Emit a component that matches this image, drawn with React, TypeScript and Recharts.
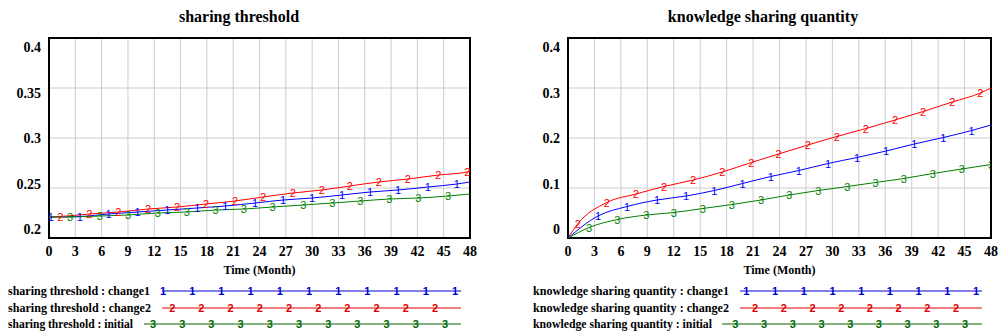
// Two Vensim-style run comparison charts
import React from 'react';
import { LineChart, Line, XAxis, YAxis, CartesianGrid, ReferenceArea } from 'recharts';

type Pt = { t: number; v: number };

const months = [0, 3, 6, 9, 12, 15, 18, 21, 24, 27, 30, 33, 36, 39, 42, 45, 48];
const thresholdTicks = [0.2, 0.25, 0.3, 0.35, 0.4];
const quantityTicks = [0, 0.1, 0.2, 0.3, 0.4];

// sharing threshold
const thresholdChange1: Pt[] = [
    { t: 0, v: 0.221 }, { t: 0.2, v: 0.221 }, { t: 3.5, v: 0.2215 }, { t: 6.8, v: 0.224 },
    { t: 10.1, v: 0.226 }, { t: 13.5, v: 0.228 }, { t: 16.9, v: 0.23 }, { t: 20.1, v: 0.232 },
    { t: 23.5, v: 0.235 }, { t: 26.7, v: 0.238 }, { t: 30, v: 0.24 }, { t: 33.4, v: 0.243 },
    { t: 36.6, v: 0.246 }, { t: 39.8, v: 0.248 }, { t: 43.2, v: 0.251 }, { t: 46.5, v: 0.254 },
    { t: 48, v: 0.256 },
];
const thresholdChange2: Pt[] = [
    { t: 0, v: 0.221 }, { t: 1.3, v: 0.2215 }, { t: 4.6, v: 0.224 }, { t: 7.9, v: 0.226 },
    { t: 11.3, v: 0.229 }, { t: 14.6, v: 0.231 }, { t: 17.9, v: 0.234 }, { t: 21.2, v: 0.237 },
    { t: 24.4, v: 0.241 }, { t: 27.8, v: 0.245 }, { t: 31.1, v: 0.248 }, { t: 34.3, v: 0.252 },
    { t: 37.6, v: 0.256 }, { t: 40.9, v: 0.259 }, { t: 44.4, v: 0.263 }, { t: 47.7, v: 0.266 },
    { t: 48, v: 0.267 },
];
const thresholdInitial: Pt[] = [
    { t: 0, v: 0.221 }, { t: 2.4, v: 0.221 }, { t: 5.8, v: 0.222 }, { t: 9, v: 0.223 },
    { t: 12.4, v: 0.225 }, { t: 15.7, v: 0.226 }, { t: 19, v: 0.228 }, { t: 22.2, v: 0.229 },
    { t: 25.5, v: 0.231 }, { t: 29, v: 0.233 }, { t: 32.3, v: 0.235 }, { t: 35.5, v: 0.237 },
    { t: 38.8, v: 0.239 }, { t: 42.1, v: 0.24 }, { t: 45.5, v: 0.242 }, { t: 48, v: 0.244 },
];

// knowledge sharing quantity
const quantityChange1: Pt[] = [
    { t: 0, v: 0 }, { t: 3.4, v: 0.044 }, { t: 6.7, v: 0.063 }, { t: 10.1, v: 0.076 },
    { t: 13.4, v: 0.084 }, { t: 16.6, v: 0.095 }, { t: 19.8, v: 0.109 }, { t: 23, v: 0.123 },
    { t: 26.2, v: 0.135 }, { t: 29.5, v: 0.149 }, { t: 32.8, v: 0.161 }, { t: 36.1, v: 0.174 },
    { t: 39.3, v: 0.188 }, { t: 42.6, v: 0.201 }, { t: 45.8, v: 0.215 }, { t: 48, v: 0.226 },
];
const quantityChange2: Pt[] = [
    { t: 0, v: 0 }, { t: 1.1, v: 0.028 }, { t: 4.4, v: 0.071 }, { t: 7.7, v: 0.088 },
    { t: 10.9, v: 0.103 }, { t: 14.2, v: 0.116 }, { t: 17.5, v: 0.132 }, { t: 20.8, v: 0.151 },
    { t: 23.9, v: 0.168 }, { t: 27.2, v: 0.186 }, { t: 30.5, v: 0.203 }, { t: 33.8, v: 0.219 },
    { t: 37.1, v: 0.236 }, { t: 40.3, v: 0.253 }, { t: 43.6, v: 0.272 }, { t: 46.8, v: 0.29 },
    { t: 48, v: 0.3 },
];
const quantityInitial: Pt[] = [
    { t: 0, v: 0 }, { t: 2.4, v: 0.021 }, { t: 5.6, v: 0.037 }, { t: 8.9, v: 0.046 },
    { t: 12, v: 0.051 }, { t: 15.3, v: 0.059 }, { t: 18.6, v: 0.067 }, { t: 21.9, v: 0.076 },
    { t: 25.1, v: 0.086 }, { t: 28.4, v: 0.095 }, { t: 31.7, v: 0.103 }, { t: 34.9, v: 0.111 },
    { t: 38.1, v: 0.119 }, { t: 41.4, v: 0.129 }, { t: 44.7, v: 0.138 }, { t: 48, v: 0.147 },
];

const BLUE = '#0000ff';
const RED = '#ff0000';
const GREEN = '#008000';
const SERIF = '"Liberation Serif", "Times New Roman", serif';
const SANS = '"Liberation Sans", Arial, sans-serif';

interface Series {
    name: string;
    data: Pt[];
    color: string;
    digit: string;
    markFirst?: boolean;
    markLast?: boolean;
}

const digitDot = (s: Series) => (props: any) => {
    const { cx, cy, index } = props;
    const n = s.data.length;
    const show = (index > 0 || s.markFirst) && (index < n - 1 || s.markLast);
    if (!show || cx == null || cy == null) return <g key={`${s.digit}-${index}`} />;
    return (
        <text key={`${s.digit}-${index}`} x={cx} y={cy} dy={4} textAnchor="middle"
            fill={s.color} fontSize={11} fontFamily={SANS}>
            {s.digit}
        </text>
    );
};

const YTick = (props: any) => {
    const { x, y, payload } = props;
    const shift = (138 - y) * 0.09;
    return (
        <text x={x} y={y + shift} dy={5} textAnchor="end" fill="#000"
            fontSize={14} fontWeight="bold" fontFamily={SERIF}>
            {String(payload.value)}
        </text>
    );
};

interface PanelProps {
    width: number;
    yWidth: number;
    rightMargin: number;
    domain: [number, number];
    ticks: number[];
    series: Series[];
}

function Panel({ width, yWidth, rightMargin, domain, ticks, series }: PanelProps) {
    return (
        <LineChart width={width} height={334} margin={{ top: 38, right: rightMargin, bottom: 60, left: 0 }}>
            <CartesianGrid stroke="#cccccc" strokeWidth={1} />
            <XAxis dataKey="t" type="number" domain={[0, 48]} ticks={months} interval={0}
                height={36} tickLine={false} axisLine={false} allowDataOverflow
                tick={{ fontSize: 14, fontWeight: 'bold', fill: '#000', fontFamily: SERIF }}
                label={{ value: 'Time (Month)', position: 'insideBottom', offset: 0, fontSize: 12, fontWeight: 'bold', fill: '#000', fontFamily: SERIF }} />
            <YAxis type="number" domain={domain} ticks={ticks} width={yWidth} interval={0}
                tickLine={false} axisLine={false} allowDataOverflow tick={<YTick />} />
            {series.map((s) => (
                <Line key={s.name} data={s.data} dataKey="v" name={s.name} type="monotone"
                    stroke={s.color} strokeWidth={1} dot={digitDot(s)} activeDot={false}
                    isAnimationActive={false} />
            ))}
            <ReferenceArea x1={0} x2={48} y1={domain[0]} y2={domain[1]} fill="none"
                fillOpacity={0} stroke="#000" strokeWidth={2} />
        </LineChart>
    );
}

interface LegendRow {
    label: string;
    color: string;
    digit: string;
    textX: number;
    textEnd: number;
    lineStart: number;
    lineEnd: number;
    lastMark: number;
    step: number;
    y: number;
}

function LegendRows({ rows }: { rows: LegendRow[] }) {
    return (
        <>
            {rows.map((r) => {
                const marks: number[] = [];
                for (let m = r.lastMark; m >= r.lineStart; m -= r.step) marks.push(m);
                return (
                    <g key={r.label}>
                        <text x={r.textX} y={r.y} dy={4} textLength={r.textEnd - r.textX}
                            lengthAdjust="spacingAndGlyphs" fontSize={12} fontWeight="bold"
                            fontFamily={SERIF} fill="#000">
                            {r.label}
                        </text>
                        <line x1={r.lineStart} x2={r.lineEnd} y1={r.y} y2={r.y} stroke={r.color} strokeWidth={1} />
                        {marks.map((m) => (
                            <text key={m} x={m} y={r.y} dy={4} textAnchor="middle" fontSize={11}
                                fontWeight="bold" fontFamily={SANS} fill={r.color}>
                                {r.digit}
                            </text>
                        ))}
                    </g>
                );
            })}
        </>
    );
}

const leftLegend: LegendRow[] = [
    { label: 'sharing threshold : change1', color: '#0000cc', digit: '1', textX: 8, textEnd: 150, lineStart: 162, lineEnd: 461, lastMark: 455, step: 29.2, y: 291 },
    { label: 'sharing threshold : change2', color: '#dd0000', digit: '2', textX: 8, textEnd: 151, lineStart: 162, lineEnd: 461, lastMark: 435, step: 29.2, y: 308 },
    { label: 'sharing threshold : initial', color: '#006600', digit: '3', textX: 8, textEnd: 133, lineStart: 144, lineEnd: 461, lastMark: 445, step: 29.2, y: 324 },
];
const rightLegend: LegendRow[] = [
    { label: 'knowledge sharing quantity : change1', color: '#0000cc', digit: '1', textX: 533, textEnd: 729, lineStart: 740, lineEnd: 982, lastMark: 976, step: 28.7, y: 291 },
    { label: 'knowledge sharing quantity : change2', color: '#dd0000', digit: '2', textX: 533, textEnd: 729, lineStart: 740, lineEnd: 982, lastMark: 956, step: 28.7, y: 308 },
    { label: 'knowledge sharing quantity : initial', color: '#006600', digit: '3', textX: 533, textEnd: 712, lineStart: 722, lineEnd: 982, lastMark: 965, step: 28.7, y: 324 },
];

const titleStyle: React.CSSProperties = {
    position: 'absolute', top: 8, fontFamily: SERIF, fontWeight: 'bold', fontSize: 16,
    color: '#000', transform: 'translateX(-50%)', whiteSpace: 'nowrap',
};

export default function App() {
    const leftSeries: Series[] = [
        { name: 'change1', data: thresholdChange1, color: BLUE, digit: '1' },
        { name: 'change2', data: thresholdChange2, color: RED, digit: '2' },
        { name: 'initial', data: thresholdInitial, color: GREEN, digit: '3' },
    ];
    const rightSeries: Series[] = [
        { name: 'change1', data: quantityChange1, color: BLUE, digit: '1', markFirst: true },
        { name: 'change2', data: quantityChange2, color: RED, digit: '2' },
        { name: 'initial', data: quantityInitial, color: GREEN, digit: '3', markLast: true },
    ];

    return (
        <div style={{ position: 'absolute', left: 0, top: 0, width: 998, height: 334, background: '#fff', overflow: 'hidden' }}>
            <div style={{ position: 'absolute', left: 0, top: 0 }}>
                <Panel width={500} yWidth={49} rightMargin={30} domain={[0.2, 0.4]} ticks={thresholdTicks} series={leftSeries} />
            </div>
            <div style={{ position: 'absolute', left: 500, top: 0 }}>
                <Panel width={498} yWidth={68} rightMargin={7} domain={[0, 0.4]} ticks={quantityTicks} series={rightSeries} />
            </div>
            <div style={{ ...titleStyle, left: 239 }}>sharing threshold</div>
            <div style={{ ...titleStyle, left: 763 }}>knowledge sharing quantity</div>
            <svg width={998} height={334} style={{ position: 'absolute', left: 0, top: 0, pointerEvents: 'none' }}>
                <LegendRows rows={leftLegend} />
                <LegendRows rows={rightLegend} />
            </svg>
        </div>
    );
}
